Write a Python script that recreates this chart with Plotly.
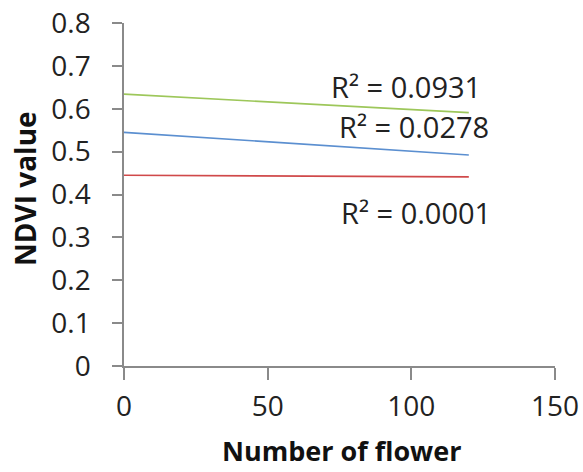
import plotly.graph_objects as go

# Trendline endpoints
x_ends = [0, 120]
green_y = [0.634, 0.591]
blue_y = [0.545, 0.492]
red_y = [0.445, 0.441]

labels = ["R² = 0.0931", "R² = 0.0278", "R² = 0.0001"]
label_x = [98, 101, 101.5]
label_y = [0.653, 0.559, 0.359]

x_ticks = [0, 50, 100, 150]
y_ticks = [0, 0.1, 0.2, 0.3, 0.4, 0.5, 0.6, 0.7, 0.8]
y_tick_text = ["0", "0.1", "0.2", "0.3", "0.4", "0.5", "0.6", "0.7", "0.8"]

x_title = "Number of flower"
y_title = "NDVI value"

FONT = "Open Sans"

fig = go.Figure()
for ys, col in [(green_y, "#9dc75a"), (blue_y, "#5b8fd0"), (red_y, "#d0494a")]:
    fig.add_trace(go.Scatter(x=x_ends, y=ys, mode="lines",
                             line=dict(color=col, width=1.6),
                             showlegend=False, hoverinfo="skip"))

for t, xx, yy in zip(labels, label_x, label_y):
    fig.add_annotation(x=xx, y=yy, xref="x", yref="y", text=t, showarrow=False,
                       font=dict(family=FONT, size=29, color="#222222"))

# axis titles as annotations so they can sit exactly where the reference has them
fig.add_annotation(x=0.5058, y=-0.307, xref="paper", yref="paper",
                   xanchor="center", yanchor="bottom", showarrow=False,
                   text="<b>" + x_title + "</b>",
                   font=dict(family=FONT, size=27, color="#111111"))
fig.add_annotation(x=-0.2297, y=0.519, xref="paper", yref="paper",
                   xanchor="center", yanchor="middle", showarrow=False,
                   textangle=-90, text="<b>" + y_title + "</b>",
                   font=dict(family=FONT, size=28, color="#111111"))

fig.update_layout(
    width=583, height=472,
    margin=dict(l=124, r=28, t=23, b=106),
    plot_bgcolor="white", paper_bgcolor="white",
    font=dict(family=FONT, color="#222222"),
)
fig.update_xaxes(
    range=[0, 150], tickvals=x_ticks, showgrid=False, zeroline=False,
    automargin=False, ticklabeloverflow="allow",
    showline=True, linecolor="#8a8a8a", linewidth=1.5,
    ticks="outside", ticklen=12, tickcolor="#8a8a8a", tickwidth=1.5,
    ticklabelstandoff=3,
    tickfont=dict(family=FONT, size=28, color="#222222"),
)
fig.update_yaxes(
    range=[0, 0.8], tickvals=y_ticks, ticktext=y_tick_text,
    showgrid=False, zeroline=False,
    automargin=False, ticklabeloverflow="allow",
    showline=True, linecolor="#8a8a8a", linewidth=1.5,
    ticks="outside", ticklen=10, tickcolor="#8a8a8a", tickwidth=1.5,
    ticklabelstandoff=16,
    tickfont=dict(family=FONT, size=28, color="#222222"),
)

fig.write_html("out.html", config={"displayModeBar": False},
               post_script="document.body.style.margin='0';document.body.style.overflow='hidden';")
